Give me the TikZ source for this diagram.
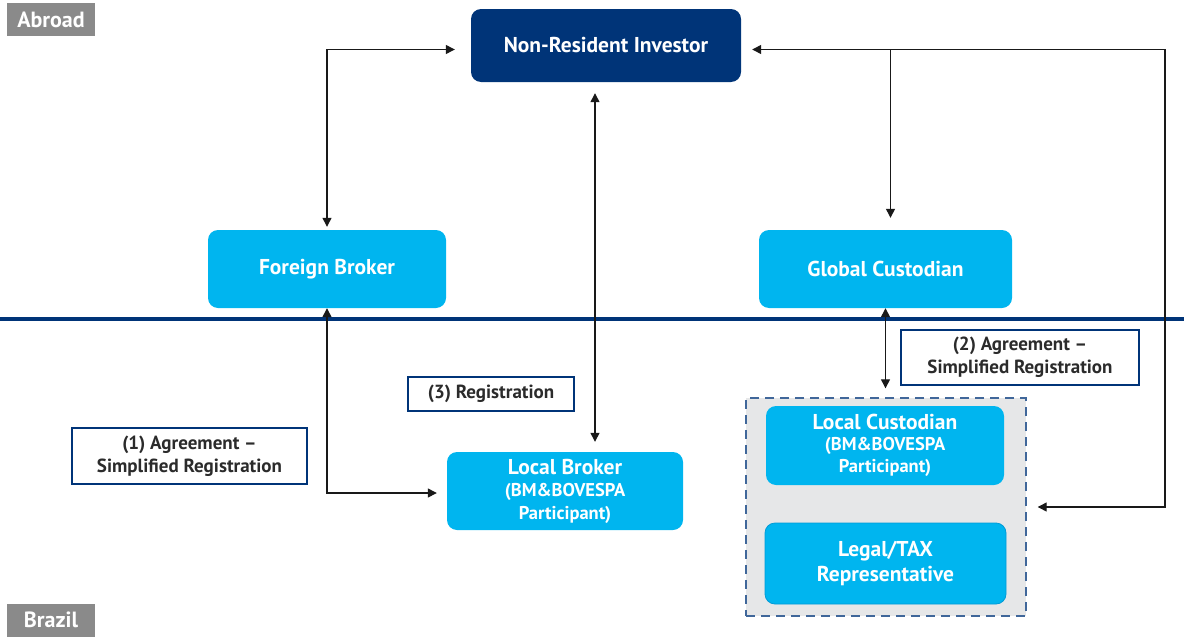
\documentclass[tikz,border=0pt]{standalone}
\usepackage{fontspec}
\setmainfont{PT Sans}
\usetikzlibrary{arrows.meta, positioning}
\definecolor{navy}{HTML}{003478}
\definecolor{skyblue}{HTML}{00B5EF}
\definecolor{tagrey}{HTML}{8A8A8A}
\definecolor{groupgrey}{HTML}{E6E7E8}
\definecolor{notetext}{HTML}{2B2B2B}

\begin{document}
\begin{tikzpicture}[
      x=1pt, y=-1pt, >={Triangle[length=9pt,width=9pt]},
      every node/.style={font=\bfseries, align=center, inner sep=0pt},
      party/.style={rectangle, rounded corners=10pt, fill=skyblue, text=white,
        font=\bfseries\fontsize{21.5}{25}\selectfont},
      investorbox/.style={party, fill=navy},
      note/.style={rectangle, draw=navy, line width=1.6pt, fill=white, text=notetext,
        font=\bfseries\fontsize{19}{23}\selectfont},
      tag/.style={rectangle, fill=tagrey, text=white, minimum width=88, minimum height=33,
        font=\bfseries\fontsize{22}{24}\selectfont},
      flow/.style={line width=1.3pt, black!90},
      ]

      \useasboundingbox (0,0) rectangle (1184,637);

      \node[tag] (abroad) at (51,19.5) {Abroad};
      \node[tag] (brazil) at (51,620) {Brazil};

      \draw[line width=4pt, navy] (0,319) -- (1184,319);

      \node[investorbox, minimum width=270, minimum height=73] (investor) at (606,45.5) {Non-Resident Investor};
      \node[party, minimum width=238, minimum height=78] (fbroker) at (327,269) {Foreign Broker};
      \node[party, minimum width=253, minimum height=78] (gcust) at (885.5,269) {Global Custodian};

      % local side
      \node[rectangle, fill=groupgrey, draw=navy!75, line width=1.4pt, dash pattern=on 9pt off 6pt,
        minimum width=280, minimum height=218] (group) at (886,507) {};
      \node[party, minimum width=238, minimum height=79] (lcust) at (885,445.5)
        {Local Custodian\\[-4pt]{\fontsize{18.5}{22}\selectfont(BM\&BOVESPA}\\[-3pt]{\fontsize{18.5}{22}\selectfont Participant)}};
      \node[party, draw=skyblue!80!navy, line width=0.8pt, minimum width=241, minimum height=81] (legal) at (885.5,563.5)
        {Legal/TAX\\Representative};
      \node[party, minimum width=236, minimum height=78] (lbroker) at (565,491)
        {Local Broker\\[-3pt]{\fontsize{18.5}{22}\selectfont(BM\&BOVESPA}\\[-2pt]{\fontsize{18.5}{22}\selectfont Participant)}};

      \node[note, minimum width=235, minimum height=56] (note1) at (189.5,456) {(1) Agreement --\\Simplified Registration};
      \node[note, minimum width=238, minimum height=55] (note2) at (1020,357.5) {(2) Agreement --\\Simplified Registration};
      \node[note, minimum width=166, minimum height=34] (note3) at (491,394) {(3) Registration};

      \coordinate (reg) at (595,0);
      \coordinate (rim) at (1165,0);

      \draw[flow, <->, shorten <=16pt, shorten >=3pt] ([yshift=-4pt]investor.west) -| (fbroker.north);
      \draw[flow, <->, shorten >=10pt] (fbroker.south) |- ([yshift=-2pt]lbroker.west);
      \draw[flow, <->, shorten <=11pt, shorten >=10pt] (investor.south -| reg) -- (lbroker.north -| reg);
      \draw[flow, <->, shorten <=11pt, shorten >=11pt] ([yshift=-4pt]investor.east) -| (rim |- group.east) -- (group.east);
      \draw[flow, ->, shorten >=12pt] ([xshift=5pt]gcust.north |- 0,50) -- ([xshift=5pt]gcust.north);
      \draw[flow, <->, shorten >=9pt] (gcust.south) -- (group.north -| gcust.south);
    \end{tikzpicture}
\end{document}
